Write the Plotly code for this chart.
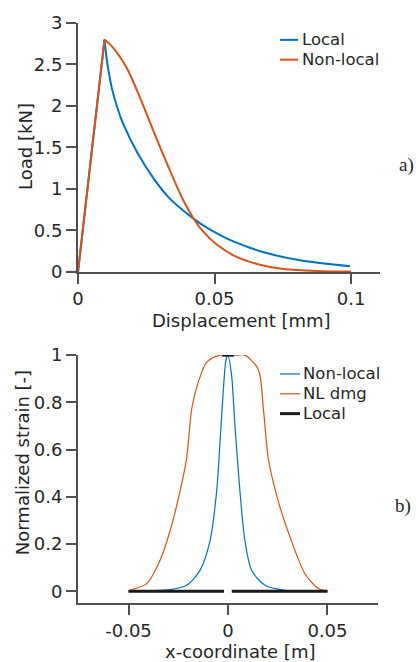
import plotly.graph_objects as go

# ---------------- data ----------------
# a) load-displacement
disp_local = [0, 0.0097, 0.0103, 0.0112, 0.0125, 0.0145, 0.0166, 0.0215, 0.0276, 0.0337,
              0.0416, 0.0447, 0.0484, 0.0569, 0.0691, 0.0813, 0.0996]
load_local = [0, 2.80, 2.62, 2.42, 2.20, 1.97, 1.78, 1.45, 1.13, 0.88,
              0.66, 0.585, 0.51, 0.367, 0.227, 0.14, 0.068]
disp_nonlocal = [0, 0.0097, 0.0129, 0.0178, 0.0227, 0.0276, 0.0337, 0.0386, 0.0422,
                 0.0447, 0.0484, 0.0508, 0.0569, 0.063, 0.069, 0.0752, 0.0874, 0.1]
load_nonlocal = [0, 2.80, 2.70, 2.46, 2.10, 1.70, 1.22, 0.86, 0.65,
                 0.53, 0.40, 0.33, 0.20, 0.12, 0.068, 0.036, 0.012, 0.004]
legend_a = ["Local", "Non-local"]

# b) normalized strain profiles
x_nonlocal = [-0.05, -0.029, -0.0208, -0.0141, -0.009, -0.0057, -0.004, -0.0024, -0.001, 0,
              0.0018, 0.0035, 0.006, 0.0085, 0.0119, 0.0186, 0.0286, 0.05]
s_nonlocal = [0, 0.007, 0.025, 0.088, 0.214, 0.424, 0.634, 0.845, 0.98, 1.0,
              0.915, 0.70, 0.424, 0.214, 0.088, 0.025, 0.004, 0]
x_nldmg = [-0.05, -0.0492, -0.0409, -0.0342, -0.0291, -0.0241, -0.0208, -0.0182, -0.0149,
           -0.0107, -0.004, 0.004, 0.0085, 0.0152, 0.0178, 0.0203, 0.0253, 0.032, 0.0387,
           0.0454, 0.05]
s_nldmg = [0, 0.004, 0.032, 0.13, 0.256, 0.424, 0.564, 0.774, 0.887,
           0.97, 1.0, 1.0, 1.0, 0.94, 0.77, 0.56, 0.38, 0.21, 0.074,
           0.011, 0]
x_local = [-0.05, -0.002, None, -0.003, 0.003, None, 0.0019, 0.05]
s_local = [0, 0, None, 1, 1, None, 0, 0]
legend_b = ["Non-local", "NL dmg", "Local"]

# tick labels
xa_ticks = [0, 0.05, 0.1]
xa_labels = ["0", "0.05", "0.1"]
ya_ticks = [0, 0.5, 1, 1.5, 2, 2.5, 3]
ya_labels = ["0", "0.5", "1", "1.5", "2", "2.5", "3"]
xb_ticks = [-0.05, 0, 0.05]
xb_labels = ["-0.05", "0", "0.05"]
yb_ticks = [0, 0.2, 0.4, 0.6, 0.8, 1]
yb_labels = ["0", "0.2", "0.4", "0.6", "0.8", "1"]

# ---------------- style ----------------
BLUE = "#0072BD"
ORANGE = "#D95319"
AX = "#505050"
TXT = "#262626"
FONT = "DejaVu Sans"

fig = go.Figure()

pk_l = load_local.index(max(load_local))
pk_n = load_nonlocal.index(max(load_nonlocal))
# elastic branch (straight) + softening branch (smooth)
fig.add_trace(go.Scatter(x=disp_local[:pk_l + 1], y=load_local[:pk_l + 1], mode="lines",
                         line=dict(color=BLUE, width=2), xaxis="x", yaxis="y", showlegend=False))
fig.add_trace(go.Scatter(x=disp_local[pk_l:], y=load_local[pk_l:], mode="lines",
                         line=dict(color=BLUE, width=2, shape="spline", smoothing=1),
                         xaxis="x", yaxis="y", showlegend=False))
fig.add_trace(go.Scatter(x=disp_nonlocal[:pk_n + 1], y=load_nonlocal[:pk_n + 1], mode="lines",
                         line=dict(color=ORANGE, width=2), xaxis="x", yaxis="y", showlegend=False))
fig.add_trace(go.Scatter(x=disp_nonlocal[pk_n:], y=load_nonlocal[pk_n:], mode="lines",
                         line=dict(color=ORANGE, width=2, shape="spline", smoothing=1),
                         xaxis="x", yaxis="y", showlegend=False))

fig.add_trace(go.Scatter(x=x_nonlocal, y=s_nonlocal, mode="lines",
                         line=dict(color=BLUE, width=1.2, shape="spline", smoothing=0.8),
                         xaxis="x2", yaxis="y2", showlegend=False))
fig.add_trace(go.Scatter(x=x_nldmg, y=s_nldmg, mode="lines",
                         line=dict(color=ORANGE, width=1.2, shape="spline", smoothing=0.8),
                         xaxis="x2", yaxis="y2", showlegend=False))
fig.add_trace(go.Scatter(x=x_local, y=s_local, mode="lines", connectgaps=False,
                         line=dict(color="#1a1a1a", width=3),
                         xaxis="x2", yaxis="y2", showlegend=False))

axis_common = dict(showline=True, linecolor=AX, linewidth=2, ticks="outside", ticklen=10,
                   tickwidth=2, tickcolor=AX, showgrid=False, zeroline=False,
                   tickfont=dict(family=FONT, size=18, color=TXT))

fig.update_layout(
    width=416, height=662, autosize=False,
    margin=dict(l=78, r=36, t=18, b=59),
    paper_bgcolor="white", plot_bgcolor="white",
    xaxis=dict(domain=[0, 1], range=[0, 0.1106], tickvals=xa_ticks, ticktext=xa_labels,
               anchor="y", **axis_common),
    yaxis=dict(domain=[0.5709, 1], range=[0, 3], tickvals=ya_ticks, ticktext=ya_labels,
               anchor="x", **axis_common),
    xaxis2=dict(domain=[0, 0.9934], range=[-0.0754, 0.0754], tickvals=xb_ticks,
                ticktext=xb_labels, anchor="y2", **axis_common),
    yaxis2=dict(domain=[0, 0.4274], range=[-0.05, 1], tickvals=yb_ticks, ticktext=yb_labels,
                anchor="x2", **axis_common),
)

def px_x(p):
    return (p - 78) / 302.0

def px_y(p):
    return (603 - p) / 585.0

shapes = [
    # axis-line extensions of panel a)
    dict(type="line", xref="paper", yref="paper", x0=px_x(68), x1=px_x(79), y0=px_y(269), y1=px_y(269),
         line=dict(color=AX, width=2)),
    dict(type="line", xref="paper", yref="paper", x0=px_x(78), x1=px_x(78), y0=px_y(268), y1=px_y(279),
         line=dict(color=AX, width=2)),
]
annotations = []

def title(text, x, y, angle=0, size=18, family=FONT):
    annotations.append(dict(text=text, xref="paper", yref="paper", x=px_x(x), y=px_y(y),
                            xanchor="center", yanchor="middle", showarrow=False, textangle=angle,
                            font=dict(family=family, size=size, color=TXT)))

title("Load [kN]", 26, 143, -90)
title("Displacement [mm]", 241, 318)
title("Normalized strain [-]", 22, 462, -90)
title("x-coordinate [m]", 240, 652)
title("a)", 406, 161, size=19, family="Liberation Serif")
title("b)", 403, 505, size=19, family="Liberation Serif")

def legend_item(label, color, width, y, x0, x1, xt):
    shapes.append(dict(type="line", xref="paper", yref="paper", x0=px_x(x0), x1=px_x(x1),
                       y0=px_y(y), y1=px_y(y), line=dict(color=color, width=width)))
    annotations.append(dict(text=label, xref="paper", yref="paper", x=px_x(xt), y=px_y(y),
                            xanchor="left", yanchor="middle", showarrow=False,
                            font=dict(family=FONT, size=16.5, color=TXT)))

legend_item(legend_a[0], BLUE, 2, 35, 280, 298, 300)
legend_item(legend_a[1], ORANGE, 2, 55, 280, 298, 300)
legend_item(legend_b[0], BLUE, 1.2, 372, 280, 300, 301)
legend_item(legend_b[1], ORANGE, 1.2, 392, 280, 300, 301)
legend_item(legend_b[2], "#1a1a1a", 3, 412, 280, 300, 301)

fig.update_layout(shapes=shapes, annotations=annotations)

# remove the default 8px page margin so the figure sits at the window origin
fig.write_html("out.html", config={"displayModeBar": False},
               post_script="document.body.style.margin='0';document.body.style.overflow='hidden';")
